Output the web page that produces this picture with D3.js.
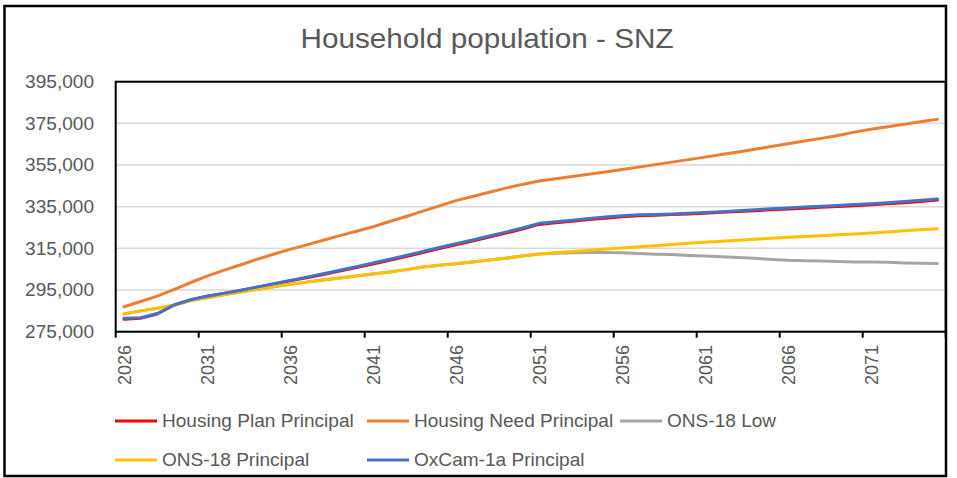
<!DOCTYPE html>
<html>
<head>
<meta charset="utf-8">
<script src="https://cdn.jsdelivr.net/npm/d3@7"></script>
<style>
  body { margin: 0; background: #fff; }
  text { font-family: "Liberation Sans", Arial, sans-serif; fill: #595959; }
</style>
</head>
<body>
<div id="vis"></div>
<script>
// categories: one per year, 2026..2075
const years = d3.range(2026, 2076);
const xTickYears = [2026, 2031, 2036, 2041, 2046, 2051, 2056, 2061, 2066, 2071];
const yTicks = [275000, 295000, 315000, 335000, 355000, 375000, 395000];

const housingPlan = [
  281000, 281400, 283500, 287700, 290200, 292000, 293400, 294800, 296300, 297800,
  299400, 300900, 302500, 304100, 305800, 307500, 309300, 311100, 313000, 314900,
  316700, 318500, 320400, 322300, 324300, 326500, 327300, 328000, 328800, 329500,
  330200, 330600, 330900, 331200, 331500, 331900, 332300, 332700, 333100, 333500,
  333900, 334300, 334700, 335100, 335500, 335900, 336400, 336900, 337500, 338200
];
const housingNeed = [
  287000, 289500, 292100, 295200, 298500, 301700, 304400, 307000, 309700, 312200,
  314500, 316700, 318900, 321100, 323200, 325400, 327900, 330300, 332900, 335400,
  337900, 339900, 341900, 343900, 345700, 347300, 348400, 349500, 350600, 351700,
  352900, 354000, 355200, 356400, 357600, 358800, 360100, 361300, 362600, 363900,
  365200, 366500, 367800, 369200, 370800, 372200, 373400, 374600, 375800, 377000
];
const onsLow = [
  283500, 285000, 286300, 287700, 290000, 291300, 292700, 294000, 295300, 296600,
  297800, 298800, 299800, 300800, 301700, 302700, 303700, 304800, 306100, 306900,
  307600, 308500, 309400, 310300, 311300, 312300, 312700, 312900, 313000, 313000,
  312900, 312500, 312200, 312000, 311600, 311300, 311000, 310600, 310200, 309700,
  309300, 309100, 308900, 308700, 308500, 308400, 308300, 308000, 307800, 307700
];
const onsPrincipal = [
  283500, 285000, 286300, 287700, 290000, 291300, 292700, 294000, 295300, 296600,
  297800, 298800, 299800, 300800, 301700, 302700, 303700, 304800, 306100, 306900,
  307600, 308500, 309400, 310300, 311300, 312300, 312900, 313500, 314100, 314700,
  315200, 315800, 316300, 316800, 317400, 317900, 318400, 318900, 319400, 319800,
  320300, 320700, 321100, 321500, 321900, 322400, 322900, 323400, 323900, 324400
];
const oxcam = [
  281400, 281700, 283700, 287800, 290300, 292000, 293400, 294800, 296400, 298000,
  299600, 301200, 302800, 304500, 306200, 308000, 309800, 311600, 313500, 315400,
  317200, 319000, 320900, 322800, 324800, 327000, 327800, 328500, 329300, 330000,
  330700, 331100, 331300, 331500, 331800, 332200, 332600, 333000, 333500, 334000,
  334400, 334800, 335200, 335600, 336000, 336400, 336900, 337500, 338100, 338700
];

const seriesNames = ["Housing Plan Principal", "Housing Need Principal", "ONS-18 Low", "ONS-18 Principal", "OxCam-1a Principal"];
const seriesValues = [housingPlan, housingNeed, onsLow, onsPrincipal, oxcam];
const seriesColors = ["#FF0000", "#ED7D31", "#A5A5A5", "#FFC000", "#4472C4"];

const W = 957, H = 478;
const plot = {left: 115.7, right: 945.7, top: 81.7, bottom: 331.7};
const stretch = 1.06; // text in the reference is a little wide

const svg = d3.select('#vis')
  .append('svg')
  .attr('width', W)
  .attr('height', H);

const x = d3.scaleBand()
  .domain(years)
  .range([plot.left, plot.right])
  .padding(0);
const y = d3.scaleLinear()
  .domain([275000, 395000])
  .range([plot.bottom, plot.top]);
const bw = x.bandwidth();

// outer chart border
svg.append('rect')
  .attr('x', 4.5).attr('y', 6)
  .attr('width', 946 - 4.5).attr('height', 476 - 6)
  .attr('fill', 'none')
  .attr('stroke', '#000')
  .attr('stroke-width', 2.5);

// title
svg.append('text')
  .attr('transform', `translate(487,47.5) scale(1.1,1)`)
  .attr('text-anchor', 'middle')
  .style('font-size', '27px')
  .text('Household population - SNZ');

// gridlines
svg.append('g')
  .selectAll('line')
  .data(yTicks)
  .join('line')
  .attr('x1', plot.left).attr('x2', plot.right)
  .attr('y1', d => y(d)).attr('y2', d => y(d))
  .attr('stroke', '#D9D9D9')
  .attr('stroke-width', 1.5);

// y labels
const fmt = d3.format(',');
svg.append('g')
  .selectAll('text')
  .data(yTicks)
  .join('text')
  .attr('transform', d => `translate(94,${y(d)}) scale(${stretch},1)`)
  .attr('dy', '0.35em')
  .attr('text-anchor', 'end')
  .style('font-size', '18px')
  .text(d => fmt(d));

// lines
const line = d3.line()
  .x(d => x(d.year) + bw / 2)
  .y(d => y(d.value));

svg.append('g')
  .selectAll('path')
  .data(seriesValues.map((vals, i) => ({color: seriesColors[i], points: vals.map((v, j) => ({year: years[j], value: v}))})))
  .join('path')
  .attr('d', d => line(d.points))
  .attr('fill', 'none')
  .attr('stroke', d => d.color)
  .attr('stroke-width', 3)
  .attr('stroke-linejoin', 'round')
  .attr('stroke-linecap', 'round');

// plot area border
svg.append('rect')
  .attr('x', plot.left).attr('y', plot.top)
  .attr('width', plot.right - plot.left).attr('height', plot.bottom - plot.top)
  .attr('fill', 'none')
  .attr('stroke', '#000')
  .attr('stroke-width', 2);

// x ticks at category boundaries, labels at category centres
const tickX = xTickYears.map(d => x(d)).concat([plot.right]);
svg.append('g')
  .selectAll('line')
  .data(tickX)
  .join('line')
  .attr('x1', d => d).attr('x2', d => d)
  .attr('y1', plot.bottom).attr('y2', plot.bottom + 6)
  .attr('stroke', '#000')
  .attr('stroke-width', 2);

svg.append('g')
  .selectAll('text')
  .data(xTickYears)
  .join('text')
  .attr('transform', d => `translate(${x(d) + bw / 2},345) scale(${stretch},1) rotate(-90)`)
  .attr('dy', '0.35em')
  .attr('text-anchor', 'end')
  .style('font-size', '18px')
  .text(d => d);

// legend
const legendPos = [[115, 421], [367, 421], [620, 421], [115, 460], [367, 460]];
const legend = svg.append('g')
  .selectAll('g')
  .data(seriesNames)
  .join('g')
  .attr('transform', (d, i) => `translate(${legendPos[i][0]},${legendPos[i][1]})`);

legend.append('line')
  .attr('x1', 0).attr('x2', 42)
  .attr('stroke', (d, i) => seriesColors[i])
  .attr('stroke-width', 3);

legend.append('text')
  .attr('transform', `translate(47,0) scale(${stretch},1)`)
  .attr('dy', '0.35em')
  .style('font-size', '18px')
  .text(d => d);
</script>
</body>
</html>
